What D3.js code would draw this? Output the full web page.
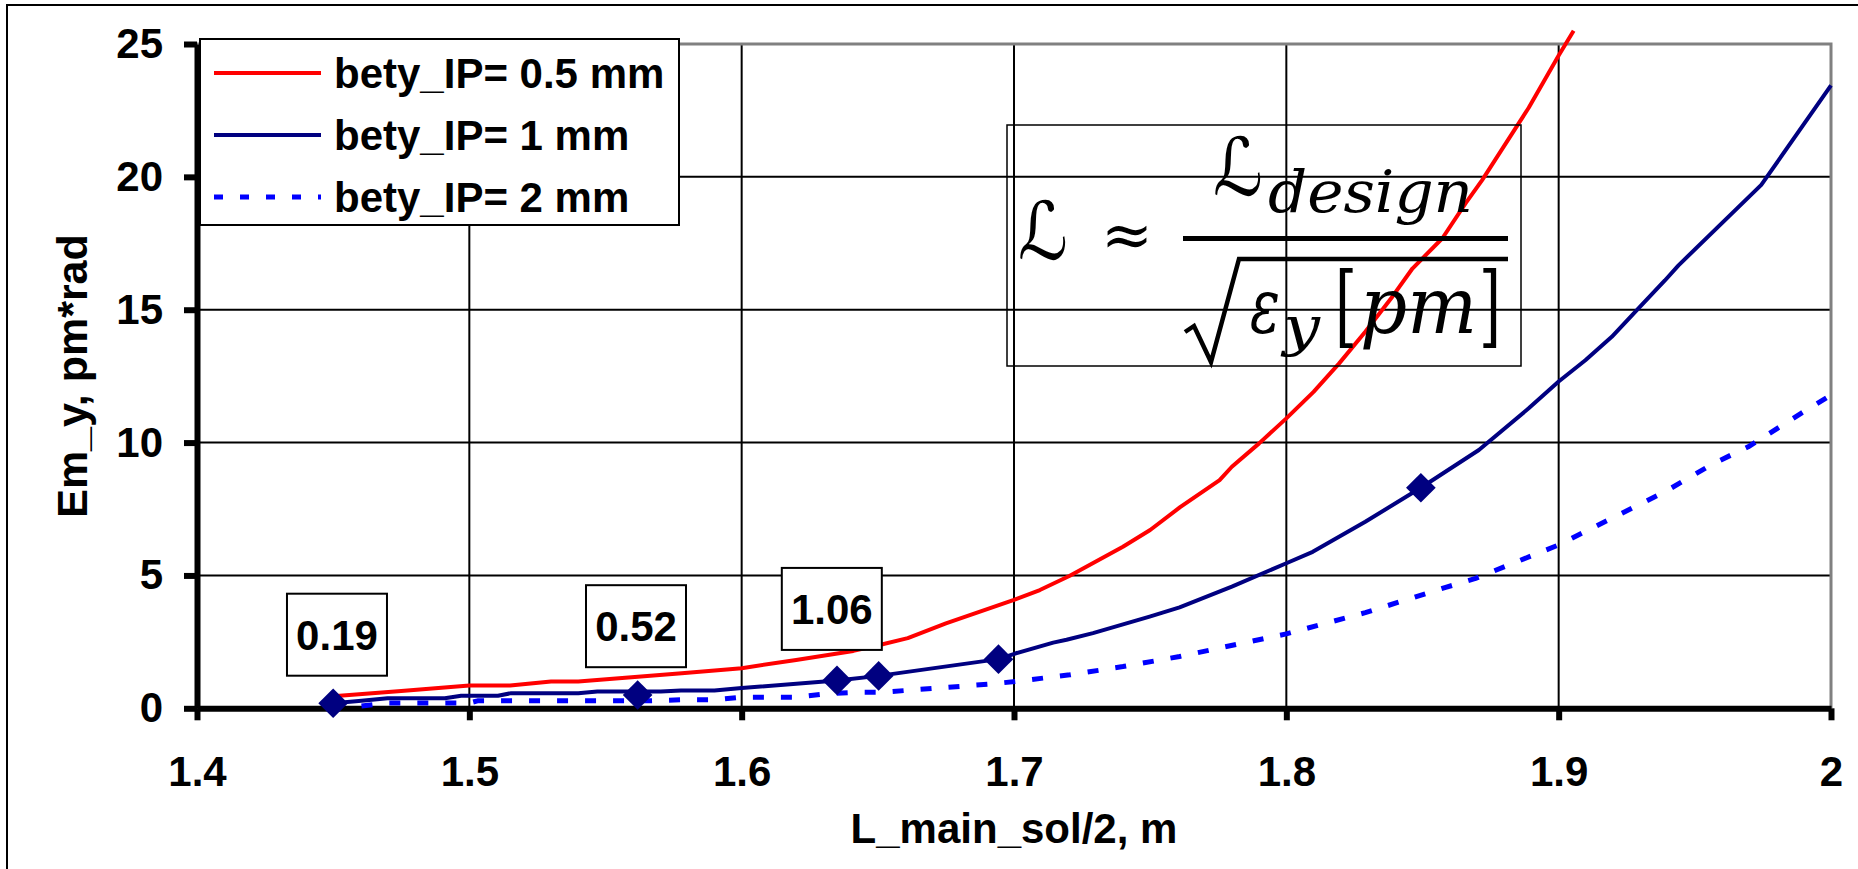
<!DOCTYPE html>
<html>
<head>
<meta charset="utf-8">
<script src="https://cdn.jsdelivr.net/npm/d3@7"></script>
<style>
  body { margin: 0; background: #fff; }
  svg text { font-family: "Liberation Sans", Arial, sans-serif; font-weight: bold; }
  .math text { font-family: "DejaVu Serif", "DejaVu Sans", serif; font-weight: normal; }
</style>
</head>
<body>
<div class="canvas"></div>
<script>
// ---- data ----
const seriesNames = ["bety_IP= 0.5 mm", "bety_IP= 1 mm", "bety_IP= 2 mm"];

const xHalf = [1.45, 1.475, 1.5, 1.515, 1.53, 1.54, 1.578, 1.6, 1.62, 1.641, 1.651, 1.661, 1.675, 1.7, 1.7095, 1.7205, 1.74, 1.75, 1.761, 1.7755, 1.78, 1.79, 1.8, 1.81, 1.8194, 1.829, 1.839, 1.8463, 1.8573, 1.8658, 1.8719, 1.889, 1.9, 1.9055];
const yHalf = [0.45, 0.65, 0.86, 0.86, 1.01, 1.01, 1.32, 1.51, 1.82, 2.16, 2.39, 2.64, 3.2, 4.08, 4.45, 4.99, 6.08, 6.71, 7.57, 8.59, 9.09, 9.97, 10.91, 11.91, 12.98, 14.17, 15.5, 16.55, 17.69, 19.0, 19.88, 22.6, 24.57, 25.5];

const xOne = [1.45, 1.4604, 1.47, 1.491, 1.497, 1.5105, 1.5154, 1.54, 1.547, 1.5703, 1.5777, 1.59, 1.6, 1.635, 1.6503, 1.6943, 1.7007, 1.7144, 1.7193, 1.729, 1.7498, 1.7608, 1.78, 1.8, 1.8097, 1.829, 1.8494, 1.8707, 1.889, 1.9, 1.9098, 1.9195, 1.9293, 1.939, 1.944, 1.9744, 2.0];
const yOne = [0.19, 0.28, 0.38, 0.38, 0.47, 0.47, 0.57, 0.57, 0.63, 0.63, 0.67, 0.67, 0.76, 1.05, 1.22, 1.85, 2.07, 2.47, 2.58, 2.83, 3.45, 3.8, 4.58, 5.46, 5.89, 7.02, 8.3, 9.72, 11.29, 12.3, 13.1, 13.98, 15.05, 16.1, 16.67, 19.7, 23.44];

const xTwo = [1.4604, 1.47, 1.5, 1.503, 1.565, 1.5777, 1.59, 1.6, 1.62, 1.631, 1.641, 1.651, 1.6717, 1.691, 1.7007, 1.7205, 1.74, 1.7608, 1.8, 1.829, 1.8585, 1.8695, 1.9, 1.939, 1.957, 1.9696, 1.989, 2.0];
const yTwo = [0.09, 0.2, 0.2, 0.28, 0.28, 0.32, 0.32, 0.42, 0.42, 0.55, 0.6, 0.6, 0.76, 0.91, 1.01, 1.26, 1.57, 1.95, 2.8, 3.6, 4.55, 4.89, 6.15, 8.15, 9.22, 9.84, 11.1, 11.79];

const xMarks = [1.45, 1.5618, 1.635, 1.6503, 1.6943, 1.8494];
const yMarks = [0.19, 0.5, 1.05, 1.22, 1.85, 8.3];

const noteTexts = ["0.19", "0.52", "1.06"];
const noteX = [1.4514, 1.5612, 1.6331];
const noteY = [2.77, 3.09, 3.74];

const xTicks = [1.4, 1.5, 1.6, 1.7, 1.8, 1.9, 2.0];
const xTickLabels = ["1.4", "1.5", "1.6", "1.7", "1.8", "1.9", "2"];
const yTicks = [0, 5, 10, 15, 20, 25];

// ---- layout ----
const width = 1858;
const height = 869;
const plot = { left: 197, right: 1831, top: 44, bottom: 708.3 };

const svg = d3
  .select(".canvas")
  .append("svg")
  .attr("width", width)
  .attr("height", height);

// chart frame (right and bottom fall outside the window)
svg
  .append("rect")
  .attr("x", 7)
  .attr("y", 5)
  .attr("width", 1900)
  .attr("height", 900)
  .attr("fill", "#fff")
  .attr("stroke", "#000")
  .attr("stroke-width", 2);

// scales
const x = d3.scaleLinear().domain([1.4, 2.0]).range([plot.left, plot.right]);
const y = d3.scaleLinear().domain([0, 25]).range([plot.bottom, plot.top]);

// grid
const grid = svg.append("g").attr("class", "grid");
grid
  .selectAll("line.v")
  .data(xTicks.slice(1, -1))
  .enter()
  .append("line")
  .attr("x1", (d) => x(d))
  .attr("x2", (d) => x(d))
  .attr("y1", y(0))
  .attr("y2", y(25))
  .attr("stroke", "#000")
  .attr("stroke-width", 2);
grid
  .selectAll("line.h")
  .data(yTicks.slice(1, -1))
  .enter()
  .append("line")
  .attr("x1", x(1.4))
  .attr("x2", x(2.0))
  .attr("y1", (d) => y(d))
  .attr("y2", (d) => y(d))
  .attr("stroke", "#000")
  .attr("stroke-width", 2);

// plot area border (top + right, grey)
svg
  .append("path")
  .attr("d", `M${x(1.4)},${y(25)}H${x(2.0)}V${y(0)}`)
  .attr("fill", "none")
  .attr("stroke", "#808080")
  .attr("stroke-width", 3);

// axes
const xAxis = d3
  .axisBottom(x)
  .tickValues(xTicks)
  .tickFormat((d, i) => xTickLabels[i])
  .tickSize(12)
  .tickSizeOuter(0)
  .tickPadding(36);
const yAxis = d3
  .axisLeft(y)
  .tickValues(yTicks)
  .tickSize(13)
  .tickSizeOuter(0)
  .tickPadding(21);

const xAxisGroup = svg
  .append("g")
  .attr("transform", `translate(0,${y(0)})`)
  .call(xAxis);
const yAxisGroup = svg
  .append("g")
  .attr("transform", `translate(${x(1.4)},0)`)
  .call(yAxis);

[xAxisGroup, yAxisGroup].forEach((g) => {
  g.attr("font-size", 42).attr("font-family", null);
  g.selectAll("path.domain").attr("stroke", "#000").attr("stroke-width", 6);
  g.selectAll(".tick line").attr("stroke", "#000").attr("stroke-width", 6);
  g.selectAll(".tick text").attr("fill", "#000");
});

// axis titles
svg
  .append("text")
  .attr("x", (plot.left + plot.right) / 2)
  .attr("y", 843)
  .attr("text-anchor", "middle")
  .attr("font-size", 42)
  .text("L_main_sol/2, m");

svg
  .append("text")
  .attr("transform", "translate(87,376) rotate(-90)")
  .attr("text-anchor", "middle")
  .attr("font-size", 43)
  .text("Em_y, pm*rad");

// series
const line = d3
  .line()
  .x((d) => x(d[0]))
  .y((d) => y(d[1]));

const series = [
  { pts: d3.zip(xHalf, yHalf), color: "#ff0000", width: 4, dash: null },
  { pts: d3.zip(xOne, yOne), color: "#000080", width: 4, dash: null },
  { pts: d3.zip(xTwo, yTwo), color: "#0000ff", width: 5, dash: "11,17" },
];

series.forEach((s) => {
  svg
    .append("path")
    .datum(s.pts)
    .attr("fill", "none")
    .attr("stroke", s.color)
    .attr("stroke-width", s.width)
    .attr("stroke-dasharray", s.dash)
    .attr("stroke-linejoin", "round")
    .attr("d", line);
});

// diamond markers
const diamond = d3.symbol().type(d3.symbolSquare).size(440);
svg
  .selectAll("path.mark")
  .data(d3.zip(xMarks, yMarks))
  .enter()
  .append("path")
  .attr("class", "mark")
  .attr("d", diamond)
  .attr("transform", (d) => `translate(${x(d[0])},${y(d[1])}) rotate(45)`)
  .attr("fill", "#000080");

// value boxes
const notes = svg
  .selectAll("g.note")
  .data(d3.zip(noteTexts, noteX, noteY))
  .enter()
  .append("g")
  .attr("class", "note")
  .attr("transform", (d) => `translate(${x(d[1])},${y(d[2])})`);
notes
  .append("rect")
  .attr("x", -50)
  .attr("y", -41)
  .attr("width", 100)
  .attr("height", 82)
  .attr("fill", "#fff")
  .attr("stroke", "#000")
  .attr("stroke-width", 2);
notes
  .append("text")
  .attr("text-anchor", "middle")
  .attr("dy", "0.36em")
  .attr("font-size", 42)
  .text((d) => d[0]);

// legend
const legend = svg.append("g").attr("class", "legend");
legend
  .append("rect")
  .attr("x", 200)
  .attr("y", 39)
  .attr("width", 479)
  .attr("height", 186)
  .attr("fill", "#fff")
  .attr("stroke", "#000")
  .attr("stroke-width", 2);

const legendRows = legend
  .selectAll("g.row")
  .data(series)
  .enter()
  .append("g")
  .attr("class", "row")
  .attr("transform", (d, i) => `translate(214,${73 + i * 62})`);
legendRows
  .append("line")
  .attr("x1", 0)
  .attr("x2", 107)
  .attr("stroke", (d) => d.color)
  .attr("stroke-width", (d) => (d.dash ? 5 : 4))
  .attr("stroke-dasharray", (d) => (d.dash ? "9,17" : null));
legendRows
  .append("text")
  .attr("x", 120)
  .attr("dy", "0.36em")
  .attr("font-size", 42)
  .text((d, i) => seriesNames[i]);

// formula box
const math = svg.append("g").attr("class", "math");
math
  .append("rect")
  .attr("x", 1007)
  .attr("y", 125)
  .attr("width", 514)
  .attr("height", 241)
  .attr("fill", "none")
  .attr("stroke", "#000")
  .attr("stroke-width", 1.5);

// helper: one text element made of positioned pieces
function mathText(parts) {
  const t = math.append("text");
  parts.forEach((p) => {
    const s = t
      .append("tspan")
      .attr("x", p.x)
      .attr("y", p.y)
      .attr("font-size", p.size)
      .attr("font-style", p.italic ? "italic" : "normal")
      .text(p.txt);
    if (p.len) s.attr("textLength", p.len).attr("lengthAdjust", "spacingAndGlyphs");
  });
  return t;
}

// left side: L ≈
mathText([
  { txt: "\u2112", x: 1018, y: 259, size: 80, italic: true, len: 50 },
  { txt: "\u2248", x: 1101, y: 256, size: 62, len: 52 },
]);

// numerator: L_design
mathText([
  { txt: "\u2112", x: 1213, y: 195, size: 80, italic: true, len: 50 },
  { txt: "design", x: 1268, y: 212, size: 58, italic: true, len: 205 },
]);

math
  .append("line")
  .attr("x1", 1183)
  .attr("x2", 1508)
  .attr("y1", 238.5)
  .attr("y2", 238.5)
  .attr("stroke", "#000")
  .attr("stroke-width", 5);

math
  .append("path")
  .attr("d", "M1185,332L1194,326L1211,362L1239,259H1508")
  .attr("fill", "none")
  .attr("stroke", "#000")
  .attr("stroke-width", 4.5)
  .attr("stroke-linejoin", "miter");

// denominator: eps_y [pm]
mathText([
  { txt: "\u03b5", x: 1250, y: 333, size: 76, italic: true, len: 30 },
  { txt: "y", x: 1283, y: 345, size: 54, italic: true, len: 37 },
  { txt: "[", x: 1335, y: 336, size: 90, len: 22 },
  { txt: "pm", x: 1360, y: 333, size: 78, italic: true, len: 117 },
  { txt: "]", x: 1479, y: 336, size: 90, len: 22 },
]);
</script>
</body>
</html>
